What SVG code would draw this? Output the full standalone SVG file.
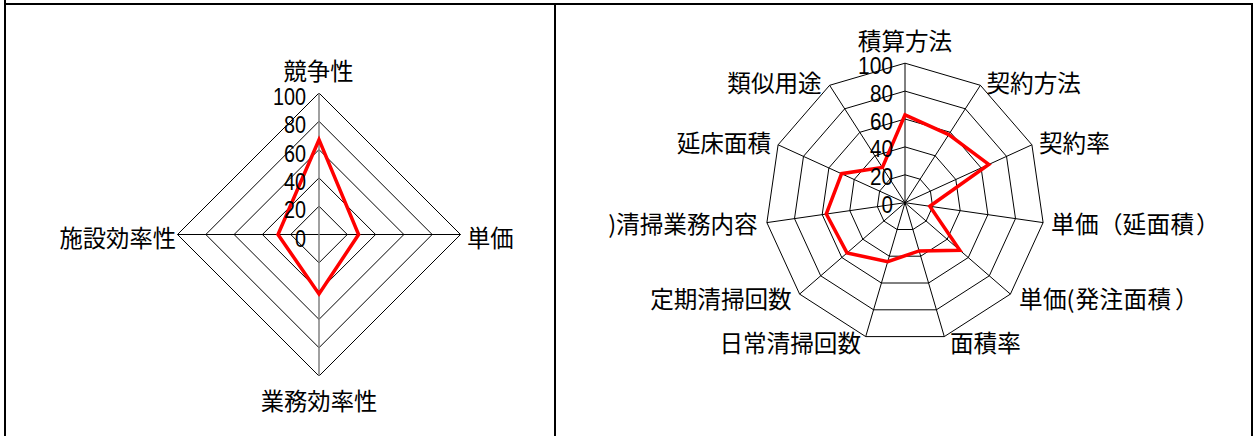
<svg xmlns="http://www.w3.org/2000/svg" width="1255" height="436" viewBox="0 0 1255 436">
<style>
.frame{stroke:#000;stroke-width:2;fill:none}
.grid{stroke:#000;stroke-width:1;fill:none}
.axis{stroke:#808080;stroke-width:1.5;fill:none}
.data{stroke:#FF0000;stroke-width:3.5;fill:none;stroke-linejoin:miter}
.tick{font-family:"Liberation Sans",Arial,sans-serif;font-size:23.5px;fill:#000;text-anchor:end}
.lab{font-family:"Noto Sans CJK JP","Noto Sans CJK SC",sans-serif;font-size:23.3px;fill:#000}
.rlab{font-size:23.6px}
</style>
<defs>
<clipPath id="rclip"><rect x="556" y="5" width="650" height="431"/></clipPath>
</defs>
<rect x="0" y="0" width="1255" height="436" fill="#fff"/>
<g id="frame">
<line class="frame" x1="4" y1="4" x2="1253" y2="4"/>
<line class="frame" x1="5" y1="0" x2="5" y2="436"/>
<line class="frame" x1="555" y1="4" x2="555" y2="436"/>
<line class="frame" x1="1252" y1="4" x2="1252" y2="436"/>
</g>
<g id="left-chart">
<g id="left-grid">
<polygon class="grid" points="319,206.2 347.3,234.5 319,262.8 290.7,234.5"/>
<polygon class="grid" points="319,177.9 375.6,234.5 319,291.1 262.4,234.5"/>
<polygon class="grid" points="319,149.6 403.9,234.5 319,319.4 234.1,234.5"/>
<polygon class="grid" points="319,121.3 432.2,234.5 319,347.7 205.8,234.5"/>
<polygon class="grid" points="319,93 460.5,234.5 319,376 177.5,234.5"/>
<line class="grid" x1="177.5" y1="234.5" x2="460.5" y2="234.5"/>
<line class="axis" x1="319" y1="93" x2="319" y2="376"/>
</g>
<polygon id="left-data" class="data" points="319,139.7 358.6,234.5 319,293.9 278,234.5"/>
<g id="left-ticks">
<text class="tick" x="306" y="105" textLength="33" lengthAdjust="spacingAndGlyphs">100</text>
<text class="tick" x="306" y="133.3" textLength="22" lengthAdjust="spacingAndGlyphs">80</text>
<text class="tick" x="306" y="161.6" textLength="22" lengthAdjust="spacingAndGlyphs">60</text>
<text class="tick" x="306" y="189.9" textLength="22" lengthAdjust="spacingAndGlyphs">40</text>
<text class="tick" x="306" y="218.2" textLength="22" lengthAdjust="spacingAndGlyphs">20</text>
<text class="tick" x="306" y="246.5" textLength="11" lengthAdjust="spacingAndGlyphs">0</text>
</g>
<g id="left-labels">
<text class="lab" x="318.5" y="80" text-anchor="middle">競争性</text>
<text class="lab" x="467" y="246.5">単価</text>
<text class="lab" x="319" y="410" text-anchor="middle">業務効率性</text>
<text class="lab" x="176" y="246.5" text-anchor="end">施設効率性</text>
</g>
</g>
<g id="right-chart" clip-path="url(#rclip)">
<g id="right-grid">
<polygon class="grid" points="905,174.8 920.1,179.2 930.4,191.1 932.6,206.7 926.1,221 912.9,229.5 897.1,229.5 883.9,221 877.4,206.7 879.6,191.1 889.9,179.2"/>
<polygon class="grid" points="905,146.9 935.2,155.8 955.8,179.5 960.2,210.6 947.2,239.2 920.7,256.2 889.3,256.2 862.8,239.2 849.8,210.6 854.2,179.5 874.8,155.8"/>
<polygon class="grid" points="905,119 950.3,132.3 981.1,167.9 987.9,214.6 968.3,257.5 928.6,283 881.4,283 841.8,257.5 822.2,214.6 828.9,167.9 859.8,132.3"/>
<polygon class="grid" points="905,91.1 965.3,108.8 1006.5,156.3 1015.5,218.6 989.3,275.8 936.4,309.8 873.6,309.8 820.7,275.8 794.5,218.6 803.5,156.3 844.7,108.8"/>
<polygon class="grid" points="905,63.2 980.4,85.3 1031.9,144.8 1043.1,222.6 1010.4,294.1 944.3,336.6 865.7,336.6 799.6,294.1 766.9,222.6 778.1,144.8 829.6,85.3"/>
<path class="grid" d="M905,202.7L905,63.2M905,202.7L980.4,85.3M905,202.7L1031.9,144.8M905,202.7L1043.1,222.6M905,202.7L1010.4,294.1M905,202.7L944.3,336.6M905,202.7L865.7,336.6M905,202.7L799.6,294.1M905,202.7L766.9,222.6M905,202.7L778.1,144.8M905,202.7L829.6,85.3"/>
</g>
<polygon id="right-data" class="data" points="905,114.8 948.7,134.6 988.8,164.4 929.8,206.3 959.8,250.2 919.1,250.9 887.7,261.6 847,252.9 826.3,214 841.6,173.7 882.4,167.5"/>
<g id="right-ticks">
<text class="tick" x="893" y="73.7" textLength="35" lengthAdjust="spacingAndGlyphs">100</text>
<text class="tick" x="893" y="101.6" textLength="23" lengthAdjust="spacingAndGlyphs">80</text>
<text class="tick" x="893" y="129.5" textLength="23" lengthAdjust="spacingAndGlyphs">60</text>
<text class="tick" x="893" y="157.4" textLength="23" lengthAdjust="spacingAndGlyphs">40</text>
<text class="tick" x="893" y="185.3" textLength="23" lengthAdjust="spacingAndGlyphs">20</text>
<text class="tick" x="893" y="213.2" textLength="11.5" lengthAdjust="spacingAndGlyphs">0</text>
</g>
<g id="right-labels">
<text class="lab rlab" x="905" y="50" text-anchor="middle">積算方法</text>
<text class="lab rlab" x="986.5" y="91.7">契約方法</text>
<text class="lab rlab" x="1039" y="151.7">契約率</text>
<text class="lab rlab" x="1051 1075 1099 1122.5 1146.5 1170.5 1196" y="233.4">単価（延面積）</text>
<text class="lab rlab" x="1019 1043 1066.5 1075.5 1099.5 1123.5 1147.5 1175" y="308.4">単価(発注面積）</text>
<text class="lab rlab" x="950" y="351.7">面積率</text>
<text class="lab rlab" x="861" y="351.7" text-anchor="end">日常清掃回数</text>
<text class="lab rlab" x="791.7" y="307.7" text-anchor="end">定期清掃回数</text>
<text class="lab rlab" x="757.7" y="233.4" text-anchor="end">)清掃業務内容</text>
<text class="lab rlab" x="771" y="151.7" text-anchor="end">延床面積</text>
<text class="lab rlab" x="821.7" y="91.7" text-anchor="end">類似用途</text>
</g>
</g>
</svg>
